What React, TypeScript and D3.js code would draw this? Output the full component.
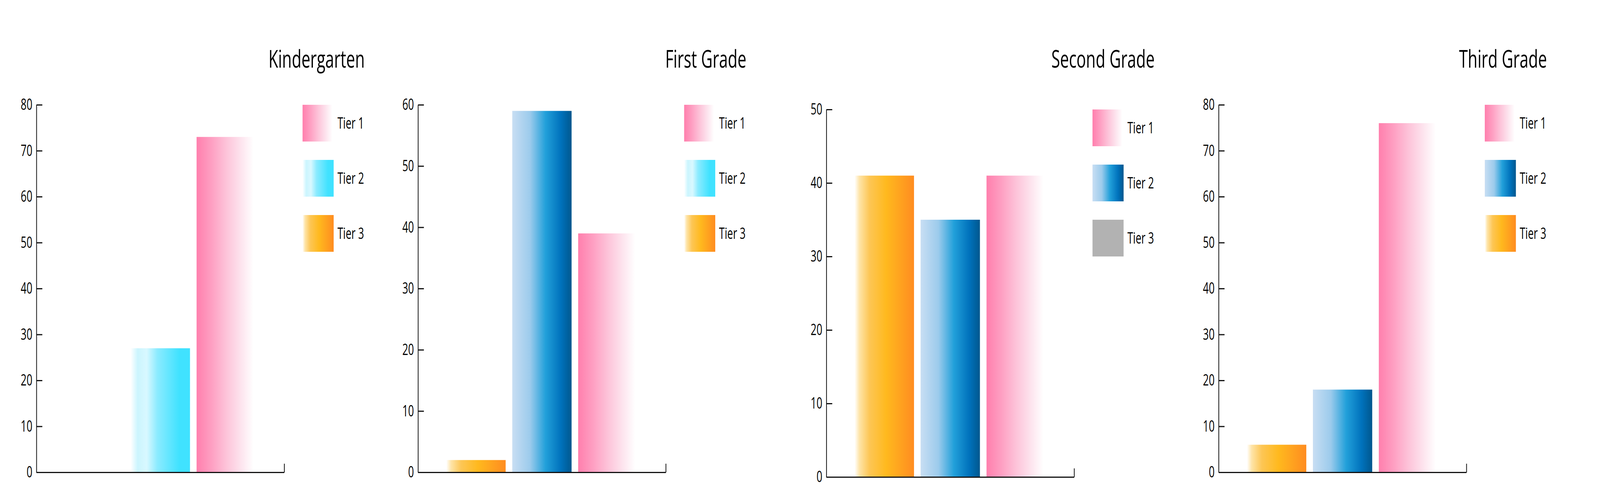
import React, { useEffect, useRef } from 'react';
import * as d3 from 'd3';

// chart data
const grades = ['Kindergarten', 'First Grade', 'Second Grade', 'Third Grade'];
const barTiers = ['Tier 3', 'Tier 2', 'Tier 1'];
const legendTiers = ['Tier 1', 'Tier 2', 'Tier 3'];
const tier1 = [73, 39, 41, 76];
const tier2 = [27, 59, 35, 18];
const tier3 = [0, 2, 41, 6];
const yMax = [80, 60, 50, 80];

// fill ids per grade: bars in barTiers order, legend in legendTiers order
const barFills = [
  ['orange', 'cyan', 'pink'],
  ['orange', 'blue', 'pink'],
  ['orange', 'blue', 'pink'],
  ['orange', 'blue', 'pink'],
];
const legendFills = [
  ['pink', 'cyan', 'orange'],
  ['pink', 'cyan', 'orange'],
  ['pink', 'blue', 'gray'],
  ['pink', 'blue', 'orange'],
];

const gradients: { [k: string]: [number, string][] } = {
  pink: [[0, '#ff7fad'], [0.25, '#fe9fc2'], [0.5, '#fdc3d9'], [0.75, '#fde4ee'], [0.96, '#ffffff']],
  cyan: [[0, '#ffffff'], [0.12, '#cbf5fe'], [0.27, '#d9f8ff'], [0.45, '#8bebff'], [0.82, '#40e2ff'], [1, '#40e2ff']],
  orange: [[0, '#ffffff'], [0.08, '#fee4a8'], [0.25, '#fdc655'], [0.53, '#ffb91e'], [1, '#ff8c20']],
  blue: [[0, '#c8def3'], [0.3, '#9ccbec'], [0.56, '#22a0da'], [0.82, '#0072bc'], [1, '#00578e']],
  gray: [[0, '#b2b2b2'], [1, '#b2b2b2']],
};

// layout of each panel (left edge of the value axis and its vertical range)
const axisLeft = [143, 1640, 3242, 4781];
const axisTop = [268, 268, 280, 268];
const axisBottom = [1208, 1208, 1220, 1208];
const plotWidth = 972;

const W = 6277;
const H = 1284;
const font = "'Open Sans', 'Noto Sans', sans-serif";

function App() {
  const ref = useRef<SVGSVGElement>(null);

  useEffect(() => {
    const svg = d3.select(ref.current);
    svg.selectAll('*').remove();

    const defs = svg.append('defs');
    Object.keys(gradients).forEach((k) => {
      const g = defs.append('linearGradient').attr('id', 'g-' + k)
        .attr('x1', 0).attr('x2', 1).attr('y1', 0).attr('y2', 0);
      gradients[k].forEach(([o, c]) => g.append('stop').attr('offset', o).attr('stop-color', c));
    });

    grades.forEach((grade, i) => {
      const left = axisLeft[i];
      const values = [tier3[i], tier2[i], tier1[i]];

      const y = d3.scaleLinear().domain([0, yMax[i]]).range([axisBottom[i], axisTop[i]]);
      const x = d3.scaleBand().domain(barTiers)
        .range([left + 111, left + plotWidth - 111]).paddingInner(0.1).paddingOuter(0);
      const xLine = d3.scaleLinear().domain([0, 1]).range([left, left + plotWidth]);

      const g = svg.append('g');

      // bars
      g.append('g').selectAll('rect')
        .data(barTiers)
        .join('rect')
        .attr('x', (d) => x(d) as number)
        .attr('width', x.bandwidth())
        .attr('y', (d, j) => y(values[j]))
        .attr('height', (d, j) => y(0) - y(values[j]))
        .attr('fill', (d, j) => `url(#g-${barFills[i][j]})`);

      // value axis: ticks pointing inward, labels on the left
      const yAxis = g.append('g')
        .attr('transform', `translate(${left},0)`)
        .call(d3.axisLeft(y).ticks(yMax[i] / 10).tickSizeInner(-23).tickSizeOuter(0).tickPadding(16));
      yAxis.selectAll('path, line').attr('stroke', '#111').attr('stroke-width', 3);
      yAxis.selectAll('text').attr('font-family', font).attr('font-size', 40).attr('fill', '#000');

      // category axis with a single end tick
      const xAxis = g.append('g')
        .attr('transform', `translate(0,${axisBottom[i]})`)
        .call(d3.axisBottom(xLine).tickValues([1]).tickSizeInner(-22).tickSizeOuter(0).tickFormat(() => ''));
      xAxis.selectAll('path, line').attr('stroke', '#111').attr('stroke-width', 3);

      // title
      g.append('text')
        .attr('x', left + 1288)
        .attr('y', 173)
        .attr('text-anchor', 'end')
        .attr('font-family', font)
        .attr('font-size', 62)
        .attr('fill', '#000')
        .text(grade);

      // legend
      const legend = g.append('g')
        .attr('transform', `translate(${left + 1044},${axisTop[i]})`);
      const item = legend.selectAll('g')
        .data(legendTiers)
        .join('g')
        .attr('transform', (d, j) => `translate(0,${j * 141})`);
      item.append('rect')
        .attr('width', 122)
        .attr('height', 94)
        .attr('fill', (d, j) => `url(#g-${legendFills[i][j]})`);
      item.append('text')
        .attr('x', 137)
        .attr('y', 47)
        .attr('dy', '0.36em')
        .attr('font-family', font)
        .attr('font-size', 40)
        .attr('fill', '#000')
        .text((d) => d);
    });
  }, []);

  // the window is narrower than the chart, so the drawing is stretched to fill it
  return (
    <svg
      ref={ref}
      viewBox={`0 0 ${W} ${H}`}
      preserveAspectRatio="none"
      style={{ position: 'absolute', left: 0, top: 0, width: '100vw', height: '100vh', background: '#fff' }}
    />
  );
}

export default App;
